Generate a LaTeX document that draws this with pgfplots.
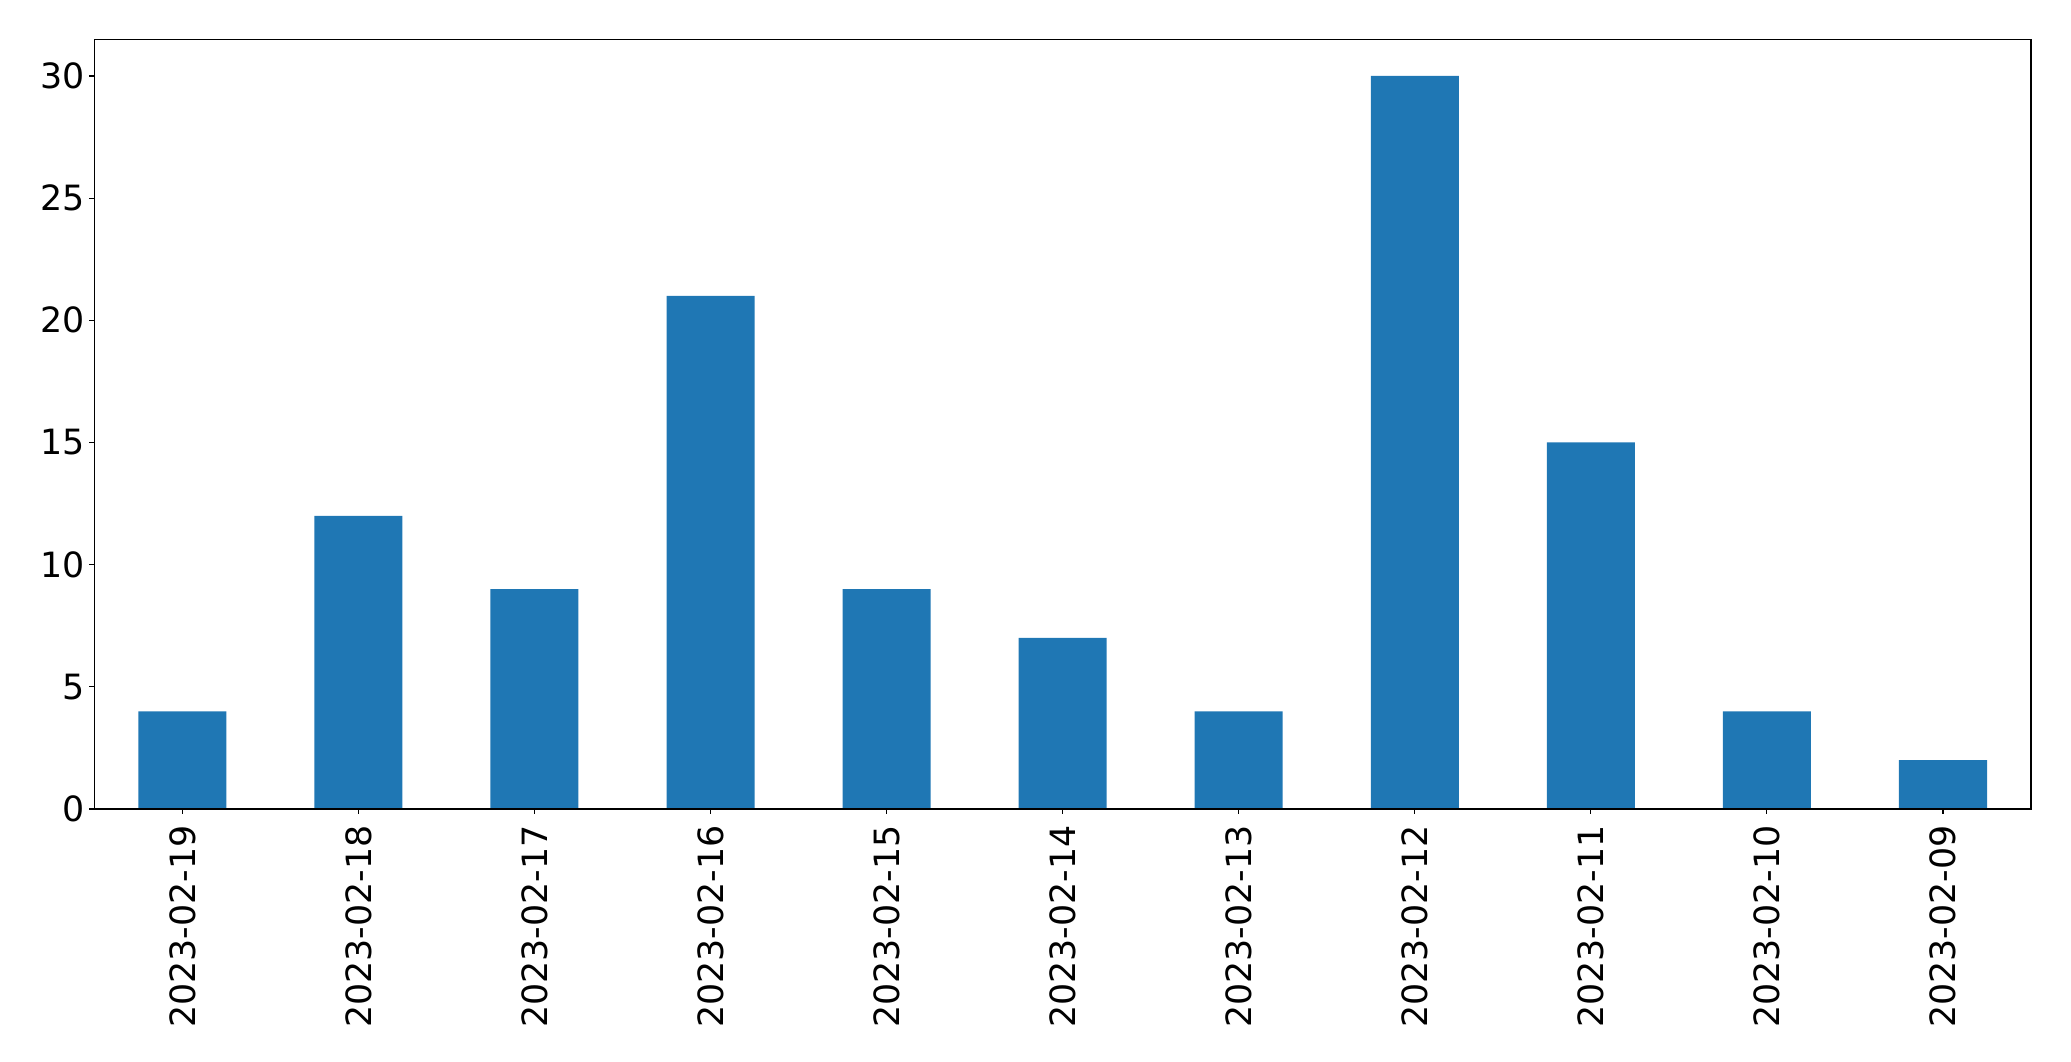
\documentclass[border=0pt]{standalone}
\usepackage{fontspec}
\setmainfont{DejaVu Sans}
\usepackage{pgfplots}
\pgfplotsset{compat=1.18}
\definecolor{mplblue}{HTML}{1F77B4}
\begin{document}
\fontsize{17.4}{20}\selectfont
\begin{tikzpicture}
\useasboundingbox (-47.15pt,-126pt) rectangle (988.35pt,404.5pt);
\begin{axis}[
  at={(0pt,0pt)}, anchor=south west,
  scale only axis,
  width=968.35pt, height=384.85pt,
  xmin=-0.5, xmax=10.5, ymin=0, ymax=31.5,
  xtick={0,...,10},
  xticklabels={2023-02-19,2023-02-18,2023-02-17,2023-02-16,2023-02-15,2023-02-14,2023-02-13,2023-02-12,2023-02-11,2023-02-10,2023-02-09},
  ytick={0,5,10,15,20,25,30},
  x tick label style={rotate=90, anchor=east, inner sep=0pt, outer sep=0pt, xshift=-5.9pt},
  y tick label style={inner sep=0pt, outer sep=0pt, xshift=-2.4pt},
  tick label style={font=\fontsize{17.4}{20}\selectfont},
  /pgf/number format/assume math mode=true,
  tick align=outside, major tick length=2.43pt,
  tick style={black, line width=0.55pt},
  xtick pos=bottom, ytick pos=left,
  axis line style={line width=0.55pt},
  ybar, bar width=0.5, bar shift=0pt,
  axis on top,
]
\addplot[fill=mplblue, draw=none] coordinates {
(0,4) (1,12) (2,9) (3,21) (4,9) (5,7) (6,4) (7,30) (8,15) (9,4) (10,2)};
\end{axis}
\end{tikzpicture}
\end{document}
